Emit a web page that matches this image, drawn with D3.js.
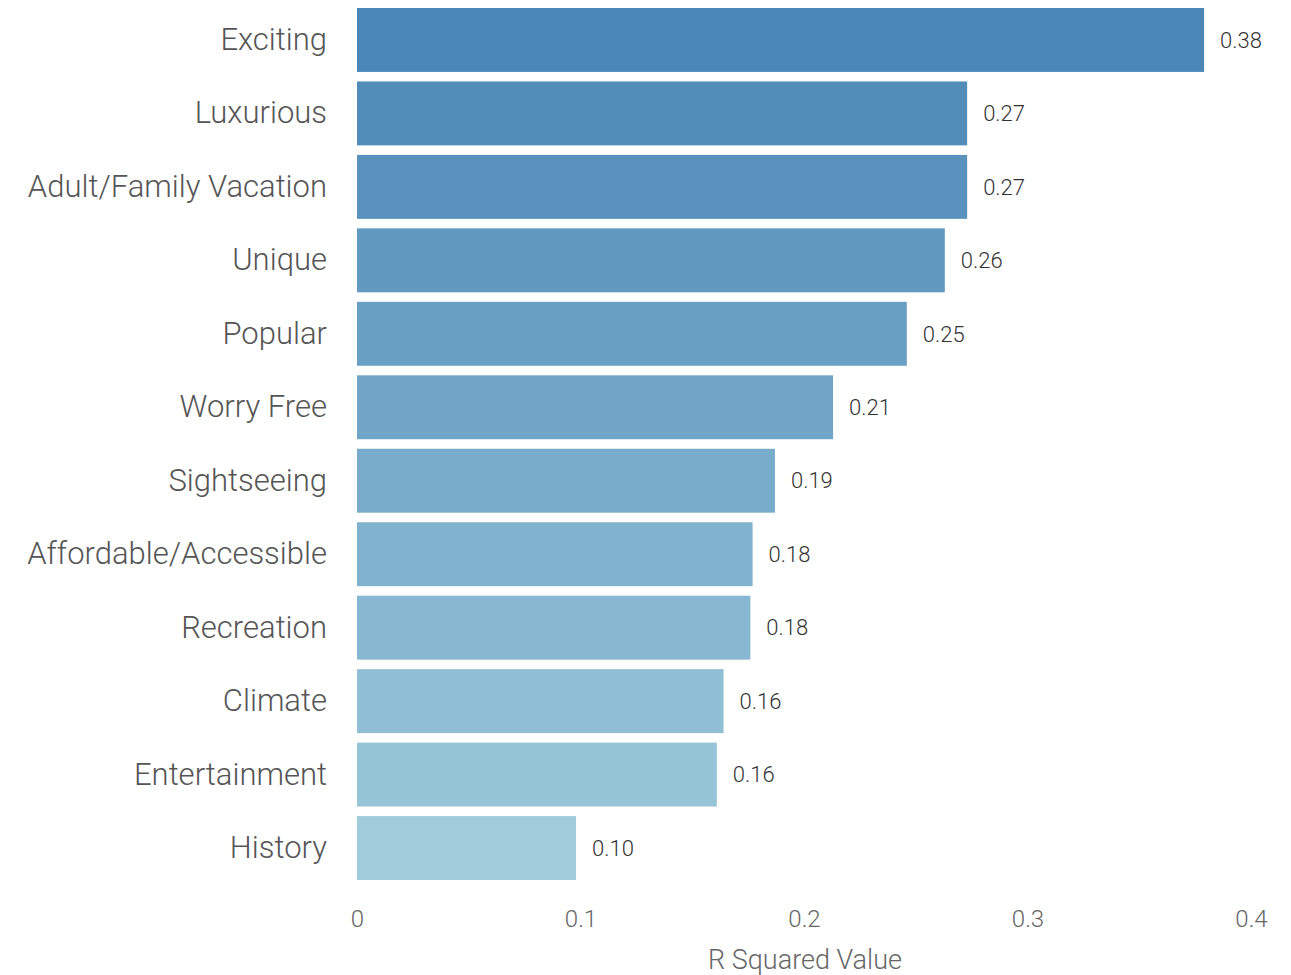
<!DOCTYPE html>
<html>
<head>
<meta charset="utf-8">
<script src="https://cdn.jsdelivr.net/npm/d3@7"></script>
<style>
  html, body { margin: 0; padding: 0; background: #ffffff; }
  svg { display: block; font-family: Roboto, "Noto Sans", sans-serif; }
</style>
</head>
<body>
<svg id="chart" width="1291" height="975"></svg>
<script>
// Attributes and their R squared values
const categories = [
  "Exciting", "Luxurious", "Adult/Family Vacation", "Unique", "Popular",
  "Worry Free", "Sightseeing", "Affordable/Accessible", "Recreation",
  "Climate", "Entertainment", "History"
];
const rSquared = [
  0.379, 0.273, 0.273, 0.263, 0.246, 0.213,
  0.187, 0.177, 0.176, 0.164, 0.161, 0.098
];
const xTicks = [0, 0.1, 0.2, 0.3, 0.4];
const xTickLabels = ["0", "0.1", "0.2", "0.3", "0.4"];
const axisTitle = "R Squared Value";

const svg = d3.select("#chart");
const plotLeft = 357, plotRight = 1251, plotTop = 8, plotBottom = 880;

const x = d3.scaleLinear().domain([0, 0.4]).range([plotLeft, plotRight]);
const y = d3.scaleBand().domain(categories).range([plotTop, plotBottom])
  .paddingInner(0.13).paddingOuter(0);

const color = d3.scaleLinear()
  .domain([0, categories.length - 1])
  .range(["#4a86b6", "#9fcbdb"])
  .interpolate(d3.interpolateRgb);

const rows = categories.map((c, i) => ({ c, v: rSquared[i], i }));

// bars
svg.append("g").selectAll("rect").data(rows).join("rect")
  .attr("x", x(0))
  .attr("y", d => y(d.c))
  .attr("width", d => x(d.v) - x(0))
  .attr("height", y.bandwidth())
  .attr("fill", d => color(d.i));

// value labels
svg.append("g").selectAll("text").data(rows).join("text")
  .attr("x", d => x(d.v) + 16)
  .attr("y", d => y(d.c) + y.bandwidth() / 2)
  .attr("dy", "0.35em")
  .attr("font-size", 22)
  .attr("font-weight", 300)
  .attr("fill", "#333333")
  .text(d => d3.format(".2f")(d.v));

// category axis
const yAxis = svg.append("g")
  .attr("transform", `translate(${plotLeft},0)`)
  .call(d3.axisLeft(y).tickSize(0).tickPadding(30));
yAxis.select(".domain").remove();
yAxis.selectAll("text")
  .attr("font-size", 31)
  .attr("font-weight", 300)
  .attr("font-family", "Roboto, 'Noto Sans', sans-serif")
  .attr("fill", "#555555");

// value axis
const xAxis = svg.append("g")
  .attr("transform", `translate(0,${plotBottom})`)
  .call(d3.axisBottom(x).tickValues(xTicks)
    .tickFormat((d, i) => xTickLabels[i]).tickSize(0).tickPadding(30));
xAxis.select(".domain").remove();
xAxis.selectAll("text")
  .attr("font-size", 24)
  .attr("font-weight", 300)
  .attr("font-family", "Roboto, 'Noto Sans', sans-serif")
  .attr("fill", "#666666");

svg.append("text")
  .attr("x", (plotLeft + plotRight) / 2 + 1)
  .attr("y", 960)
  .attr("dy", "0.35em")
  .attr("text-anchor", "middle")
  .attr("font-size", 27)
  .attr("font-weight", 300)
  .attr("fill", "#666666")
  .text(axisTitle);
</script>
</body>
</html>
